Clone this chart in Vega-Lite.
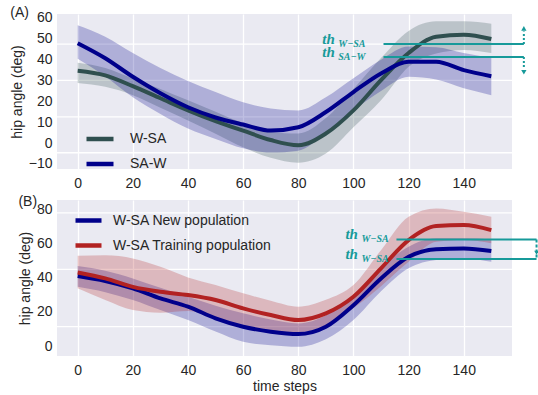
{
  "$schema": "https://vega.github.io/schema/vega-lite/v6.json",
  "background": "white",
  "padding": {"left": 10, "top": 5, "right": 2, "bottom": 3},
  "spacing": 31,
  "bounds": "flush",
  "config": {
    "view": {"fill": "#EAEAF2", "stroke": null},
    "font": "Liberation Sans",
    "axis": {
      "labelFont": "Liberation Sans", "labelFontSize": 14, "labelColor": "#262626", "labelOverlap": false,
      "titleFont": "Liberation Sans", "titleFontSize": 14, "titleFontWeight": "normal", "titleColor": "#262626",
      "ticks": false, "domain": false, "gridColor": "white", "gridWidth": 1.3, "gridOpacity": 1
    }
  },
  "datasets": {
    "A": [
      {"t": 0, "s": "W-SA", "mean": 34.7, "lo": 28.8, "hi": 38.5},
      {"t": 10, "s": "W-SA", "mean": 32.5, "lo": 27, "hi": 36},
      {"t": 20, "s": "W-SA", "mean": 27.3, "lo": 23, "hi": 31},
      {"t": 30, "s": "W-SA", "mean": 21.5, "lo": 17, "hi": 26},
      {"t": 40, "s": "W-SA", "mean": 15.7, "lo": 10.9, "hi": 20.5},
      {"t": 50, "s": "W-SA", "mean": 10.5, "lo": 4.5, "hi": 15},
      {"t": 60, "s": "W-SA", "mean": 6, "lo": -2, "hi": 9.5},
      {"t": 70, "s": "W-SA", "mean": 1.5, "lo": -7, "hi": 5.5},
      {"t": 80, "s": "W-SA", "mean": -1, "lo": -9.4, "hi": 4.6},
      {"t": 90, "s": "W-SA", "mean": 4.6, "lo": -5, "hi": 12},
      {"t": 100, "s": "W-SA", "mean": 15.7, "lo": 7.6, "hi": 26},
      {"t": 110, "s": "W-SA", "mean": 30.2, "lo": 20.5, "hi": 40.8},
      {"t": 120, "s": "W-SA", "mean": 43.2, "lo": 36.6, "hi": 53.8},
      {"t": 130, "s": "W-SA", "mean": 51, "lo": 43, "hi": 58.4},
      {"t": 140, "s": "W-SA", "mean": 52, "lo": 44.7, "hi": 58.4},
      {"t": 150, "s": "W-SA", "mean": 49.9, "lo": 43.2, "hi": 57.2},
      {"t": 0, "s": "SA-W", "mean": 47.9, "lo": 40.5, "hi": 56.5},
      {"t": 10, "s": "SA-W", "mean": 40.7, "lo": 32, "hi": 51},
      {"t": 20, "s": "SA-W", "mean": 31.8, "lo": 22, "hi": 43.2},
      {"t": 30, "s": "SA-W", "mean": 23.9, "lo": 14, "hi": 36},
      {"t": 40, "s": "SA-W", "mean": 17.2, "lo": 7, "hi": 29.8},
      {"t": 50, "s": "SA-W", "mean": 12.3, "lo": 2, "hi": 24.5},
      {"t": 60, "s": "SA-W", "mean": 8.9, "lo": -2.5, "hi": 19.6},
      {"t": 70, "s": "SA-W", "mean": 6, "lo": -4.5, "hi": 16.6},
      {"t": 80, "s": "SA-W", "mean": 7.6, "lo": -3.6, "hi": 15.7},
      {"t": 90, "s": "SA-W", "mean": 14.9, "lo": 5, "hi": 22},
      {"t": 100, "s": "SA-W", "mean": 24.5, "lo": 15.7, "hi": 31.1},
      {"t": 110, "s": "SA-W", "mean": 33.4, "lo": 25, "hi": 40},
      {"t": 120, "s": "SA-W", "mean": 39, "lo": 31.8, "hi": 46.3},
      {"t": 130, "s": "SA-W", "mean": 39, "lo": 30.5, "hi": 46},
      {"t": 140, "s": "SA-W", "mean": 35, "lo": 26.3, "hi": 43.2},
      {"t": 150, "s": "SA-W", "mean": 32.1, "lo": 23, "hi": 40.8}
    ],
    "B": [
      {"t": 0, "s": "W-SA New population", "mean": 40.9, "lo": 34.6, "hi": 46.7},
      {"t": 10, "s": "W-SA New population", "mean": 38, "lo": 31.5, "hi": 44},
      {"t": 20, "s": "W-SA New population", "mean": 33.7, "lo": 26.9, "hi": 39.5},
      {"t": 30, "s": "W-SA New population", "mean": 27.8, "lo": 21, "hi": 34},
      {"t": 40, "s": "W-SA New population", "mean": 23, "lo": 15.2, "hi": 28.8},
      {"t": 50, "s": "W-SA New population", "mean": 16.2, "lo": 8.5, "hi": 23.5},
      {"t": 60, "s": "W-SA New population", "mean": 11.3, "lo": 2.5, "hi": 19.1},
      {"t": 70, "s": "W-SA New population", "mean": 8.4, "lo": 0.5, "hi": 15.5},
      {"t": 80, "s": "W-SA New population", "mean": 7, "lo": -0.4, "hi": 13.2},
      {"t": 90, "s": "W-SA New population", "mean": 11.3, "lo": 4, "hi": 18},
      {"t": 100, "s": "W-SA New population", "mean": 23.9, "lo": 15.2, "hi": 29.8},
      {"t": 110, "s": "W-SA New population", "mean": 39.5, "lo": 32, "hi": 46},
      {"t": 120, "s": "W-SA New population", "mean": 52.1, "lo": 45.4, "hi": 58},
      {"t": 130, "s": "W-SA New population", "mean": 56.5, "lo": 50.2, "hi": 62.9},
      {"t": 140, "s": "W-SA New population", "mean": 57, "lo": 51.2, "hi": 62.9},
      {"t": 150, "s": "W-SA New population", "mean": 55.5, "lo": 49.2, "hi": 62.3},
      {"t": 0, "s": "W-SA Training population", "mean": 43, "lo": 33.7, "hi": 52.7},
      {"t": 10, "s": "W-SA Training population", "mean": 39.5, "lo": 26.9, "hi": 53},
      {"t": 20, "s": "W-SA Training population", "mean": 34.6, "lo": 21, "hi": 51.2},
      {"t": 30, "s": "W-SA Training population", "mean": 31.7, "lo": 19.5, "hi": 46.3},
      {"t": 40, "s": "W-SA Training population", "mean": 29.8, "lo": 20.5, "hi": 40.1},
      {"t": 50, "s": "W-SA Training population", "mean": 26.9, "lo": 16.5, "hi": 35.6},
      {"t": 60, "s": "W-SA Training population", "mean": 22, "lo": 11.3, "hi": 30.8},
      {"t": 70, "s": "W-SA Training population", "mean": 18.1, "lo": 9, "hi": 26.5},
      {"t": 80, "s": "W-SA Training population", "mean": 15.2, "lo": 8, "hi": 23},
      {"t": 90, "s": "W-SA Training population", "mean": 19.1, "lo": 12, "hi": 27},
      {"t": 100, "s": "W-SA Training population", "mean": 28.8, "lo": 22.2, "hi": 35.6},
      {"t": 110, "s": "W-SA Training population", "mean": 45.4, "lo": 35, "hi": 56},
      {"t": 120, "s": "W-SA Training population", "mean": 61.9, "lo": 49.2, "hi": 75.5},
      {"t": 130, "s": "W-SA Training population", "mean": 70.1, "lo": 60.9, "hi": 80.4},
      {"t": 140, "s": "W-SA Training population", "mean": 70.7, "lo": 61.9, "hi": 78.4},
      {"t": 150, "s": "W-SA Training population", "mean": 67.7, "lo": 60, "hi": 75.5}
    ],
    "gridA": [{"v": 47.5}, {"v": 30.1}, {"v": 12.6}, {"v": -4.6}],
    "gridB": [{"v": 77.8}, {"v": 44.8}, {"v": 11.3}],
    "thA": [
      {"x1": 110.9, "x2": 161.8, "y": 47.5, "yend": 53.5, "tip": 55.0, "dir": "up", "sub": "W−SA", "tx": 88.7},
      {"x1": 110.9, "x2": 161.8, "y": 41.3, "yend": 35.5, "tip": 34.0, "dir": "down", "sub": "SA−W", "tx": 88.7}
    ],
    "thB": [
      {"x1": 115.6, "x2": 166.4, "y": 62.3, "sub": "W−SA", "tx": 97.1},
      {"x1": 115.6, "x2": 166.4, "y": 50.8, "sub": "W−SA", "tx": 97.1}
    ]
  },
  "resolve": {"scale": {"color": "independent"}, "legend": {"color": "independent"}},
  "vconcat": [
    {
      "width": 455,
      "height": 155,
      "title": {"text": "(A)", "anchor": "start", "frame": "bounds", "fontSize": 14, "fontWeight": "normal", "font": "Liberation Sans", "color": "#262626", "offset": -9},
      "layer": [
        {
          "data": {"name": "gridA"},
          "mark": {"type": "rule", "color": "white", "strokeWidth": 1.3},
          "encoding": {"y": {"field": "v", "type": "quantitative", "scale": {"domain": [-12.4, 61.9], "nice": false, "zero": false},
                  "axis": {"values": [-10, 0, 10, 20, 30, 40, 50, 60], "tickCount": 20, "labelOverlap": false, "grid": false, "title": "hip angle (deg)", "labelPadding": 5, "titlePadding": 4}}}
        },
        {
          "data": {"name": "A"},
          "transform": [{"filter": "datum.s === 'W-SA'"}],
          "mark": {"type": "area", "opacity": 0.25, "interpolate": "monotone", "color": "#2f4f4f"},
          "encoding": {
            "x": {"field": "t", "type": "quantitative", "scale": {"domain": [-7.5, 157.5], "nice": false, "zero": false},
                  "axis": {"values": [0, 20, 40, 60, 80, 100, 120, 140], "tickCount": 20, "labelOverlap": false, "grid": true, "title": null, "labelPadding": 7}},
            "y": {"field": "lo", "type": "quantitative",
                  "axis": {"values": [-10, 0, 10, 20, 30, 40, 50, 60], "tickCount": 20, "labelOverlap": false, "grid": false, "title": "hip angle (deg)", "labelPadding": 5, "titlePadding": 4}},
            "y2": {"field": "hi"}
          }
        },
        {
          "data": {"name": "A"},
          "transform": [{"filter": "datum.s === 'SA-W'"}],
          "mark": {"type": "area", "opacity": 0.25, "interpolate": "monotone", "color": "#00008b"},
          "encoding": {
            "x": {"field": "t", "type": "quantitative"},
            "y": {"field": "lo", "type": "quantitative", "title": "hip angle (deg)"},
            "y2": {"field": "hi"}
          }
        },
        {
          "data": {"name": "A"},
          "mark": {"type": "line", "strokeWidth": 4, "interpolate": "monotone"},
          "encoding": {
            "x": {"field": "t", "type": "quantitative"},
            "y": {"field": "mean", "type": "quantitative", "title": "hip angle (deg)"},
            "color": {"field": "s", "type": "nominal", "scale": {"domain": ["W-SA", "SA-W"], "range": ["#2f4f4f", "#00008b"]},
                      "legend": {"title": null, "orient": "none", "legendX": 27, "legendY": 109, "symbolType": "stroke", "symbolSize": 729, "symbolStrokeWidth": 4.5, "labelFont": "Liberation Sans", "labelFontSize": 14, "labelColor": "#262626", "labelOffset": 14, "padding": 0, "rowPadding": -4}}
          }
        },
        {
          "data": {"name": "thA"},
          "mark": {"type": "rule", "color": "#179a9a", "strokeWidth": 2},
          "encoding": {"x": {"field": "x1", "type": "quantitative"}, "x2": {"field": "x2"}, "y": {"field": "y", "type": "quantitative", "title": "hip angle (deg)"}}
        },
        {
          "data": {"name": "thA"},
          "mark": {"type": "rule", "color": "#179a9a", "strokeWidth": 2, "strokeDash": [2, 2]},
          "encoding": {"x": {"field": "x2", "type": "quantitative"}, "y": {"field": "y", "type": "quantitative", "title": "hip angle (deg)"}, "y2": {"field": "yend"}}
        },
        {
          "data": {"name": "thA"},
          "mark": {"type": "point", "filled": true, "color": "#179a9a", "opacity": 1, "size": 28},
          "encoding": {"x": {"field": "x2", "type": "quantitative"}, "y": {"field": "tip", "type": "quantitative", "title": "hip angle (deg)"},
                       "shape": {"field": "dir", "type": "nominal", "scale": {"domain": ["up", "down"], "range": ["triangle-up", "triangle-down"]}, "legend": null}}
        },
        {
          "data": {"name": "thA"},
          "mark": {"type": "text", "text": "th", "font": "Liberation Serif", "fontStyle": "italic", "fontWeight": "bold", "fontSize": 15, "color": "#179a9a", "align": "left", "baseline": "alphabetic"},
          "encoding": {"x": {"field": "tx", "type": "quantitative"}, "y": {"field": "y", "type": "quantitative", "title": "hip angle (deg)"}}
        },
        {
          "data": {"name": "thA"},
          "mark": {"type": "text", "font": "Liberation Serif", "fontStyle": "italic", "fontWeight": "bold", "fontSize": 10, "color": "#179a9a", "align": "left", "baseline": "alphabetic", "dx": 16, "dy": 3},
          "encoding": {"x": {"field": "tx", "type": "quantitative"}, "y": {"field": "y", "type": "quantitative", "title": "hip angle (deg)"}, "text": {"field": "sub"}}
        }
      ]
    },
    {
      "width": 455,
      "height": 156,
      "title": {"text": "(B)", "anchor": "start", "frame": "bounds", "fontSize": 14, "fontWeight": "normal", "font": "Liberation Sans", "color": "#262626", "offset": -9},
      "layer": [
        {
          "data": {"name": "gridB"},
          "mark": {"type": "rule", "color": "white", "strokeWidth": 1.3},
          "encoding": {"y": {"field": "v", "type": "quantitative", "scale": {"domain": [-5.8, 85.3], "nice": false, "zero": false},
                  "axis": {"values": [0, 20, 40, 60, 80], "tickCount": 20, "labelOverlap": false, "grid": false, "title": "hip angle (deg)", "labelPadding": 5, "titlePadding": 4}}}
        },
        {
          "data": {"name": "B"},
          "transform": [{"filter": "datum.s === 'W-SA New population'"}],
          "mark": {"type": "area", "opacity": 0.25, "interpolate": "monotone", "color": "#00008b"},
          "encoding": {
            "x": {"field": "t", "type": "quantitative", "scale": {"domain": [-7.5, 157.5], "nice": false, "zero": false},
                  "axis": {"values": [0, 20, 40, 60, 80, 100, 120, 140], "tickCount": 20, "labelOverlap": false, "grid": true, "title": "time steps", "labelPadding": 7, "titlePadding": 2}},
            "y": {"field": "lo", "type": "quantitative",
                  "axis": {"values": [0, 20, 40, 60, 80], "tickCount": 20, "labelOverlap": false, "grid": false, "title": "hip angle (deg)", "labelPadding": 5, "titlePadding": 4}},
            "y2": {"field": "hi"}
          }
        },
        {
          "data": {"name": "B"},
          "transform": [{"filter": "datum.s === 'W-SA Training population'"}],
          "mark": {"type": "area", "opacity": 0.25, "interpolate": "monotone", "color": "#b22222"},
          "encoding": {
            "x": {"field": "t", "type": "quantitative", "title": "time steps"},
            "y": {"field": "lo", "type": "quantitative", "title": "hip angle (deg)"},
            "y2": {"field": "hi"}
          }
        },
        {
          "data": {"name": "B"},
          "mark": {"type": "line", "strokeWidth": 4, "interpolate": "monotone"},
          "encoding": {
            "x": {"field": "t", "type": "quantitative", "title": "time steps"},
            "y": {"field": "mean", "type": "quantitative", "title": "hip angle (deg)"},
            "color": {"field": "s", "type": "nominal", "scale": {"domain": ["W-SA New population", "W-SA Training population"], "range": ["#00008b", "#b22222"]},
                      "legend": {"title": null, "orient": "none", "legendX": 16, "legendY": 5, "symbolType": "stroke", "symbolSize": 676, "symbolStrokeWidth": 4.5, "labelFont": "Liberation Sans", "labelFontSize": 14, "labelColor": "#262626", "labelOffset": 9, "padding": 0, "rowPadding": -6}}
          }
        },
        {
          "data": {"name": "thB"},
          "mark": {"type": "rule", "color": "#179a9a", "strokeWidth": 2},
          "encoding": {"x": {"field": "x1", "type": "quantitative", "title": "time steps"}, "x2": {"field": "x2"}, "y": {"field": "y", "type": "quantitative", "title": "hip angle (deg)"}}
        },
        {
          "data": {"name": "thB"},
          "mark": {"type": "text", "text": "th", "font": "Liberation Serif", "fontStyle": "italic", "fontWeight": "bold", "fontSize": 15, "color": "#179a9a", "align": "left", "baseline": "alphabetic"},
          "encoding": {"x": {"field": "tx", "type": "quantitative", "title": "time steps"}, "y": {"field": "y", "type": "quantitative", "title": "hip angle (deg)"}}
        },
        {
          "data": {"name": "thB"},
          "mark": {"type": "text", "font": "Liberation Serif", "fontStyle": "italic", "fontWeight": "bold", "fontSize": 10, "color": "#179a9a", "align": "left", "baseline": "alphabetic", "dx": 16, "dy": 3},
          "encoding": {"x": {"field": "tx", "type": "quantitative", "title": "time steps"}, "y": {"field": "y", "type": "quantitative", "title": "hip angle (deg)"}, "text": {"field": "sub"}}
        },
        {
          "data": {"values": [{"x": 166.4, "y1": 62.3, "y2": 50.8}]},
          "mark": {"type": "rule", "color": "#179a9a", "strokeWidth": 2, "strokeDash": [3, 2]},
          "encoding": {"x": {"field": "x", "type": "quantitative", "title": "time steps"}, "y": {"field": "y1", "type": "quantitative", "title": "hip angle (deg)"}, "y2": {"field": "y2"}}
        },
        {
          "data": {"values": [{"x": 166.4, "y": 54.5}]},
          "mark": {"type": "point", "shape": "triangle-down", "filled": true, "color": "#179a9a", "opacity": 1, "size": 22},
          "encoding": {"x": {"field": "x", "type": "quantitative", "title": "time steps"}, "y": {"field": "y", "type": "quantitative", "title": "hip angle (deg)"}}
        }
      ]
    }
  ]
}
